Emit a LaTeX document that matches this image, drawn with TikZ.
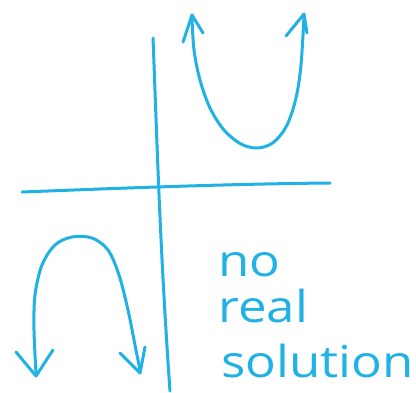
\documentclass[tikz,border=0pt]{standalone}
\usepackage{fontspec}
\setmainfont{Open Sans}
\definecolor{pen}{RGB}{32,178,228}
\begin{document}
\begin{tikzpicture}[x=1pt,y=-1pt,
  ink/.style={draw=pen,line width=3pt,line cap=round,line join=round},
  hand/.style={text=pen,font=\fontsize{44}{44}\selectfont,inner sep=0pt,anchor=base west,xscale=1.16}]
\useasboundingbox[fill=white] (0,0) rectangle (416,392);
% axes
\draw[ink] (153,38) .. controls (157,140) and (160,250) .. (170,391);
\draw[ink] (22,192) .. controls (100,189) and (220,184) .. (330,183);
% upward parabola
\draw[ink] plot[smooth,tension=0.55] coordinates {(192,18) (194,50) (200,80) (210,108) (224,130) (241,144) (258,148) (274,142) (287,125) (296,98) (301,65) (304,16)};
\draw[ink] (183,42) -- (192,15) -- (203,33);
\draw[ink] (286,36) -- (304,14) -- (307,33);
% downward parabola
\draw[ink] plot[smooth,tension=0.55] coordinates {(36,373) (34,330) (35,295) (42,265) (55,245) (72,237) (92,238) (108,250) (119,275) (128,310) (135,345) (140,370)};
\draw[ink] (16,352) -- (36,376) -- (53,350);
\draw[ink] (120,353) -- (140,373) -- (145,347);
% text
\node[hand] (no) at (218,276) {no};
\node[hand] (real) at (218,322) {real};
\node[hand] (sol) at (221,377) {solution};
\end{tikzpicture}
\end{document}
